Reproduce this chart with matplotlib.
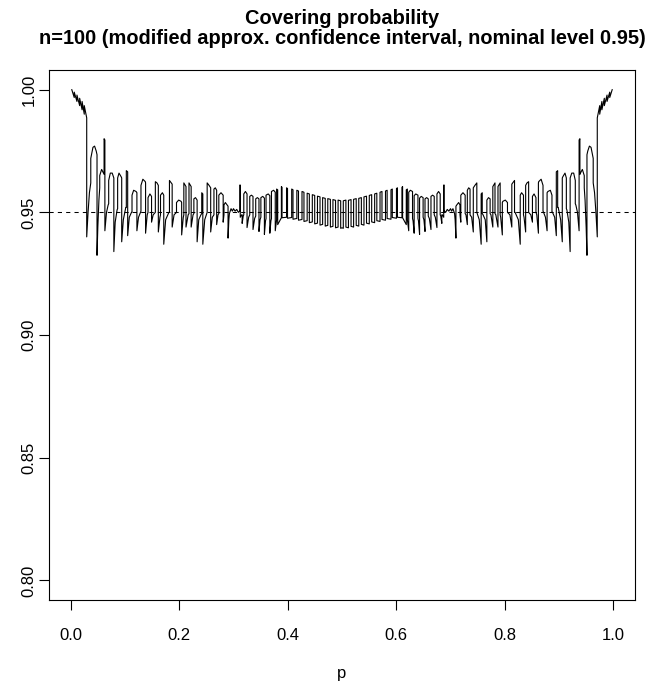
import matplotlib
matplotlib.use("Agg")
import matplotlib.pyplot as plt

# covering probability, left half (p from 0 to 0.5);
# the curve is symmetric around p = 0.5
cov_p = [0.002, 0.0065, 0.0065, 0.0115, 0.0115, 0.0165, 0.0165, 0.021, 0.021, 0.025, 0.025, 0.0295, 0.0295,
         0.032, 0.0345, 0.037, 0.037, 0.041, 0.044, 0.047, 0.0485, 0.0485,
         0.050, 0.052, 0.0535, 0.0535, 0.057, 0.0605, 0.0615, 0.0615, 0.063, 0.063,
         0.066, 0.069, 0.070, 0.070, 0.073, 0.0765, 0.0795, 0.0795,
         0.082, 0.0855, 0.0865, 0.0865, 0.089, 0.093, 0.094, 0.094,
         0.097, 0.1015, 0.1025, 0.1025, 0.105, 0.105,
         0.108, 0.112, 0.113, 0.113, 0.116, 0.1205, 0.122, 0.122,
         0.125, 0.1285, 0.1295, 0.1295, 0.133, 0.1375, 0.138, 0.138,
         0.141, 0.1425, 0.1425, 0.146, 0.149, 0.149,
         0.152, 0.156, 0.156, 0.159, 0.1615, 0.1615,
         0.1645, 0.1655, 0.1655, 0.169, 0.1715, 0.1715,
         0.175, 0.181, 0.182, 0.182, 0.187, 0.187,
         0.1905, 0.195, 0.195, 0.199, 0.2035, 0.2045, 0.2045,
         0.2075, 0.2085, 0.2085, 0.2125, 0.2125,
         0.2165, 0.218, 0.218, 0.222, 0.222,
         0.2255, 0.227, 0.227, 0.230, 0.233, 0.233,
         0.236, 0.240, 0.2415, 0.2415, 0.2435, 0.2435,
         0.247, 0.2515, 0.2515, 0.255, 0.258, 0.258,
         0.261, 0.264, 0.264, 0.2665, 0.269, 0.269,
         0.2715, 0.273, 0.273, 0.277, 0.281, 0.281,
         0.2825, 0.2825, 0.285, 0.2885, 0.290, 0.290,
         0.2915, 0.2925, 0.2955, 0.298, 0.300, 0.303, 0.306, 0.309, 0.311, 0.312, 0.312, 0.3125, 0.3125,
         0.315, 0.316, 0.316, 0.318, 0.319, 0.319, 0.322, 0.325, 0.325,
         0.328, 0.330, 0.330, 0.333, 0.336, 0.336,
         0.339, 0.341, 0.341, 0.344, 0.347, 0.347,
         0.349, 0.3505, 0.3505, 0.354, 0.357, 0.357,
         0.359, 0.360, 0.360, 0.364, 0.367, 0.367,
         0.369, 0.370, 0.370, 0.374, 0.377, 0.377,
         0.3795, 0.3795, 0.3815, 0.3815,
         0.3883, 0.3883, 0.3895, 0.3895,
         0.3978, 0.3978, 0.3996, 0.3996,
         0.4073, 0.4073, 0.4097, 0.4097,
         0.4168, 0.4168, 0.4198, 0.4198,
         0.4263, 0.4263, 0.4299, 0.4299,
         0.4358, 0.4358, 0.4398, 0.4398,
         0.4453, 0.4453, 0.4497, 0.4497,
         0.4548, 0.4548, 0.4595, 0.4595,
         0.4643, 0.4643, 0.4691, 0.4691,
         0.4738, 0.4738, 0.4786, 0.4786,
         0.4833, 0.4833, 0.4881, 0.4881,
         0.4928, 0.4928, 0.4976, 0.4976, 0.500]
cov_v = [1.000, 0.9968, 0.9990, 0.9952, 0.9978, 0.9935, 0.9965, 0.9918, 0.9952, 0.9900, 0.9935, 0.9885, 0.9400,
         0.9500, 0.9580, 0.9620, 0.9720, 0.9765, 0.9770, 0.9750, 0.9735, 0.9325,
         0.9440, 0.9550, 0.9600, 0.9650, 0.9675, 0.9660, 0.9655, 0.9800, 0.9795, 0.9425,
         0.9500, 0.9530, 0.9535, 0.9630, 0.9660, 0.9660, 0.9640, 0.9340,
         0.9460, 0.9510, 0.9515, 0.9640, 0.9660, 0.9645, 0.9640, 0.9380,
         0.9470, 0.9520, 0.9520, 0.9670, 0.9665, 0.9405,
         0.9480, 0.9500, 0.9500, 0.9570, 0.9590, 0.9585, 0.9580, 0.9425,
         0.9480, 0.9500, 0.9505, 0.9610, 0.9635, 0.9625, 0.9620, 0.9415,
         0.9490, 0.9500, 0.9560, 0.9575, 0.9565, 0.9460,
         0.9490, 0.9500, 0.9625, 0.9620, 0.9610, 0.9420,
         0.9480, 0.9490, 0.9570, 0.9580, 0.9570, 0.9370,
         0.9470, 0.9500, 0.9500, 0.9630, 0.9615, 0.9440,
         0.9490, 0.9500, 0.9540, 0.9550, 0.9545, 0.9540, 0.9408,
         0.9480, 0.9490, 0.9620, 0.9605, 0.9440,
         0.9490, 0.9495, 0.9620, 0.9605, 0.9440,
         0.9490, 0.9495, 0.9555, 0.9560, 0.9550, 0.9380,
         0.9470, 0.9490, 0.9495, 0.9580, 0.9575, 0.9370,
         0.9470, 0.9500, 0.9620, 0.9610, 0.9600, 0.9420,
         0.9480, 0.9490, 0.9595, 0.9600, 0.9590, 0.9450,
         0.9490, 0.9495, 0.9570, 0.9580, 0.9570, 0.9460,
         0.9490, 0.9530, 0.9540, 0.9530, 0.9525, 0.9395,
         0.9470, 0.9495, 0.9515, 0.9505, 0.9515, 0.9505, 0.9512, 0.9500, 0.9505, 0.9505, 0.9612, 0.9610, 0.9480,
         0.9490, 0.9490, 0.9455, 0.9485, 0.9490, 0.9575, 0.9585, 0.9575, 0.9438,
         0.9480, 0.9490, 0.9565, 0.9570, 0.9565, 0.9430,
         0.9475, 0.9485, 0.9555, 0.9560, 0.9555, 0.9422,
         0.9470, 0.9480, 0.9560, 0.9565, 0.9558, 0.9410,
         0.9465, 0.9475, 0.9570, 0.9575, 0.9568, 0.9415,
         0.9465, 0.9475, 0.9585, 0.9590, 0.9582, 0.9425,
         0.9470, 0.9595, 0.9592, 0.9450,
         0.9478, 0.9605, 0.9602, 0.9478,
         0.9480, 0.9600, 0.9597, 0.9476,
         0.9479, 0.9595, 0.9592, 0.9472,
         0.9475, 0.9590, 0.9587, 0.9468,
         0.9471, 0.9585, 0.9582, 0.9463,
         0.9466, 0.9578, 0.9575, 0.9458,
         0.9461, 0.9572, 0.9569, 0.9453,
         0.9456, 0.9566, 0.9563, 0.9448,
         0.9451, 0.9560, 0.9557, 0.9444,
         0.9447, 0.9556, 0.9553, 0.9440,
         0.9443, 0.9552, 0.9549, 0.9437,
         0.9440, 0.9550, 0.9547, 0.9435, 0.9437]

n = 100
level = 0.95

# mirror the left half to get the right half
p_all = cov_p + [1 - p for p in reversed(cov_p)]
v_all = cov_v + list(reversed(cov_v))

plt.rcParams['font.family'] = ['Liberation Sans', 'DejaVu Sans']
fig = plt.figure(figsize=(6.49, 6.82), dpi=100)
ax = fig.add_axes([0.0755, 0.1202, 0.9029, 0.7771])

ax.plot(p_all, v_all, color='black', linewidth=0.8)
ax.axhline(level, color='black', linewidth=0.75, linestyle=(0, (4, 4)))

ax.set_xlim(-0.04, 1.04)
ax.set_ylim(0.792, 1.008)
ax.set_xticks([0.0, 0.2, 0.4, 0.6, 0.8, 1.0])
ax.set_xticklabels(['0.0', '0.2', '0.4', '0.6', '0.8', '1.0'])
ax.set_yticks([0.80, 0.85, 0.90, 0.95, 1.00])
ax.set_yticklabels(['0.80', '0.85', '0.90', '0.95', '1.00'], rotation=90, va='center')
ax.tick_params(direction='out', length=7, width=0.8, labelsize=12)
ax.tick_params(axis='x', pad=13)
ax.tick_params(axis='y', pad=2)
for s in ax.spines.values():
    s.set_linewidth(0.8)
ax.set_xlabel('p', fontsize=12, labelpad=17)

# R centres the title over the plot region
tx = 342 / 649
fig.text(tx, 1 - 18 / 682, 'Covering probability', ha='center', va='center',
         fontsize=14.4, fontweight='bold')
fig.text(tx, 1 - 39 / 682, 'n=%d (modified approx. confidence interval, nominal level %.2f)' % (n, level),
         ha='center', va='center', fontsize=14.4, fontweight='bold')

fig.savefig('out.png', dpi=100)
